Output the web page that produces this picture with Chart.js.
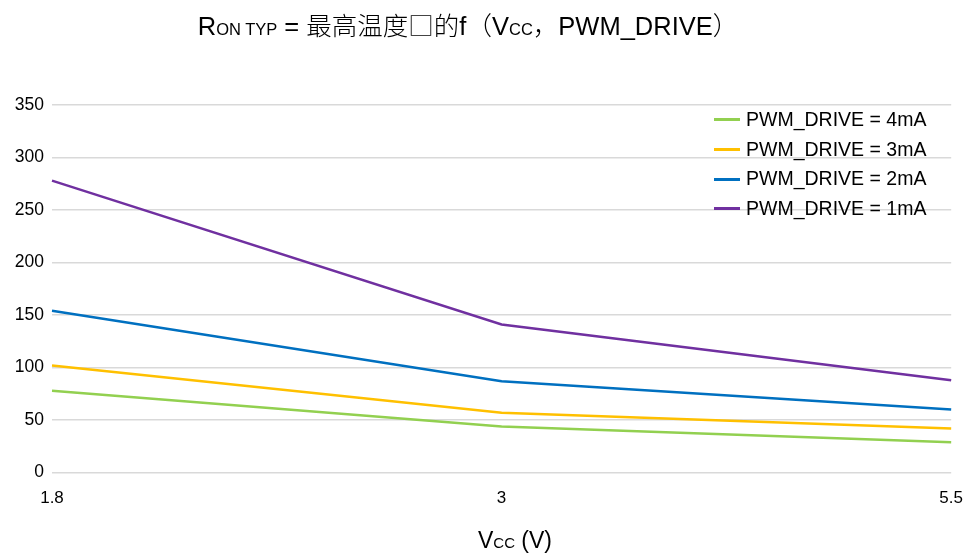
<!DOCTYPE html>
<html>
<head>
<meta charset="utf-8">
<script src="https://cdn.jsdelivr.net/npm/chart.js@4.4.1/dist/chart.umd.min.js"></script>
<style>
    html, body { margin: 0; padding: 0; background: #fff; }
    #wrap { position: relative; width: 979px; height: 558px; font-family: "Liberation Sans", Arial, sans-serif; color: #000; }
    #chart { position: absolute; left: 0; top: 0; }
    #title { position: absolute; left: 0; width: 936px; top: 5px; text-align: center; font-size: 25.5px; white-space: nowrap; }
    #title .cjk { font-family: "Noto Sans CJK SC", sans-serif; font-weight: 300; }
    #title .sub { font-size: 16.5px; }
    .sub { font-size: 15px; }
    #xtitle { position: absolute; left: 0; width: 1030px; top: 527px; text-align: center; font-size: 23px; }
    #legend { position: absolute; left: 714px; top: 105px; font-size: 19.5px; }
    #legend div { height: 29.7px; line-height: 29.7px; display: flex; align-items: center; }
    #legend span.sw { display: inline-block; width: 26px; height: 3px; margin-right: 6px; }
</style>
</head>
<body>
<div id="wrap">
    <canvas id="chart" width="979" height="558"></canvas>
    <div id="title">R<span class="sub">ON TYP</span> = <span class="cjk">最高温度□的</span>f<span class="cjk">（</span>V<span class="sub">CC</span><span class="cjk">，</span>PWM_DRIVE<span class="cjk">）</span></div>
    <div id="xtitle">V<span class="sub">CC</span> (V)</div>
    <div id="legend"></div>
</div>
<script>
// x 軸カテゴリ (Vcc)
const vcc = ['1.8', '3', '5.5'];

// 系列ラベル
const seriesNames = ['PWM_DRIVE = 4mA', 'PWM_DRIVE = 3mA', 'PWM_DRIVE = 2mA', 'PWM_DRIVE = 1mA'];

// 各系列の値 (Ron typ)
const drive4mA = [78, 44, 29];
const drive3mA = [102, 57, 42];
const drive2mA = [154, 87, 60];
const drive1mA = [278, 141, 88];

// y 軸目盛
const yTicks = [0, 50, 100, 150, 200, 250, 300, 350];

const colors = ['#92D050', '#FFC000', '#0070C0', '#7030A0'];
const seriesData = [drive4mA, drive3mA, drive2mA, drive1mA];

const datasets = seriesNames.map((name, i) => ({
    label: name,
    data: seriesData[i],
    borderColor: colors[i],
    backgroundColor: colors[i],
    borderWidth: 2.5,
    pointRadius: 0,
    tension: 0,
    fill: false,
}));

// 凡例 (グラフ内右上)
document.getElementById('legend').innerHTML = datasets.map(d =>
    `<div><span class="sw" style="background:${d.borderColor}"></span>${d.label}</div>`
).join('');

const ctx = document.getElementById('chart').getContext('2d');
new Chart(ctx, {
    type: 'line',
    data: { labels: vcc, datasets },
    options: {
        responsive: false,
        animation: false,
        layout: { padding: { top: 105, right: 27, bottom: 33, left: 0 } },
        plugins: {
            legend: { display: false },
            title: { display: false },
            tooltip: { enabled: false },
        },
        scales: {
            x: {
                type: 'category',
                offset: false,
                grid: { display: false, drawTicks: false },
                border: { display: false },
                ticks: { color: '#000', padding: 16, font: { family: 'Liberation Sans', size: 17 } },
            },
            y: {
                min: yTicks[0],
                max: yTicks[yTicks.length - 1],
                afterFit: (s) => { s.width = 52; },
                afterBuildTicks: (s) => { s.ticks = yTicks.map(v => ({ value: v })); },
                grid: { color: '#d9d9d9', lineWidth: 1.5, drawTicks: false },
                border: { display: false },
                ticks: { color: '#000', padding: 8, font: { family: 'Liberation Sans', size: 17.5 } },
            },
        },
    },
});
</script>
</body>
</html>
